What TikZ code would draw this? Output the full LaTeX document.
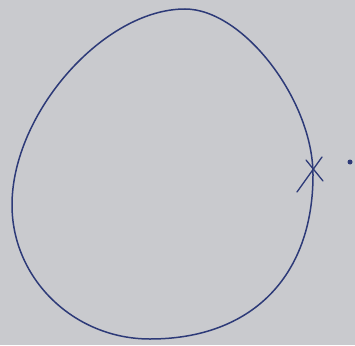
\documentclass[tikz,border=0pt]{standalone}
\definecolor{PaperGray}{HTML}{C9CACE}
\definecolor{InkBlue}{HTML}{2D3A78}

\begin{document}
\begin{tikzpicture}[x=1pt, y=-1pt, line cap=round, line join=round]
    % Paper background (fixes the bounding box)
    \fill[PaperGray] (0,0) rectangle (355,345);

    % Coordinates
    \coordinate (T) at (185,9);
    \coordinate (R) at (313,175);
    \coordinate (B) at (150,339);
    \coordinate (L) at (12,205);
    \coordinate (P) at (350,162);

    % Hand-drawn closed loop
    \draw[InkBlue, line width=1.5pt]
        (T) .. controls (243,9) and (313,100) .. (R)
            .. controls (313,277) and (251,339) .. (B)
            .. controls (74,339) and (12,279) .. (L)
            .. controls (12,113) and (104,9) .. (T) -- cycle;

    % Cross on the curve
    \draw[InkBlue, line width=1.3pt] (297,192) -- (322,157);
    \draw[InkBlue, line width=1.3pt] (306,160) -- (323,181);

    % Point outside
    \fill[InkBlue] (P) circle (2.5pt);
\end{tikzpicture}
\end{document}
